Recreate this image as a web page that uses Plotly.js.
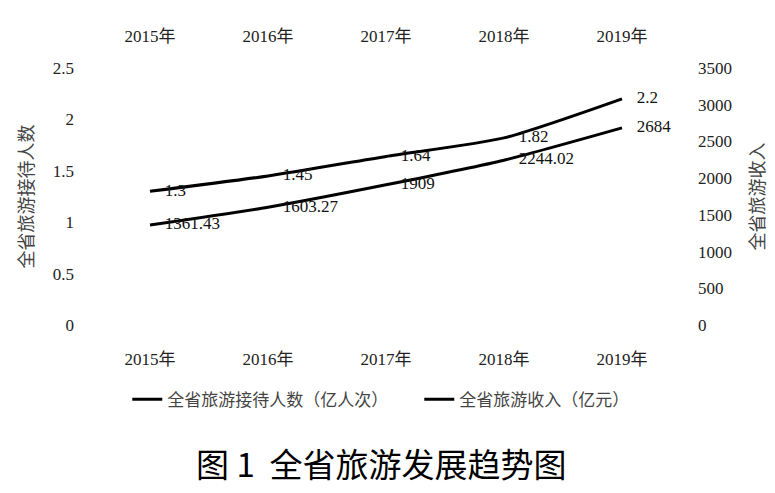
<!DOCTYPE html>
<html>
<head>
<meta charset="utf-8">
<script src="https://cdn.plot.ly/plotly-3.0.1.min.js"></script>
<style>html,body{margin:0;padding:0;background:#fff;}#chart{width:775px;height:493px;}</style>
</head>
<body>
<div id="chart"></div>
<script>
const years = ['2015年', '2016年', '2017年', '2018年', '2019年'];
const visitors = [1.3, 1.45, 1.64, 1.82, 2.2];          // 亿人次
const revenue = [1361.43, 1603.27, 1909, 2244.02, 2684]; // 亿元
const visitorLabels = ['1.3', '1.45', '1.64', '1.82', '2.2'];
const revenueLabels = ['1361.43', '1603.27', '1909', '2244.02', '2684'];
const seriesNames = ['全省旅游接待人数（亿人次）', '全省旅游收入（亿元）'];

const serif = 'Liberation Serif, "Noto Sans CJK SC", serif';
const cjk = '"Noto Sans CJK SC", sans-serif';

const traces = [
  {
    x: years, y: visitors, name: seriesNames[0], type: 'scatter', mode: 'lines+markers+text',
    text: visitorLabels, textposition: 'middle right',
    textfont: {family: serif, size: 17, color: '#111'},
    line: {color: '#000', width: 3, shape: 'spline', smoothing: 0.6},
    marker: {size: 22, color: 'rgba(0,0,0,0)'},
    xaxis: 'x', yaxis: 'y', hoverinfo: 'skip'
  },
  {
    x: years, y: revenue, name: seriesNames[1], type: 'scatter', mode: 'lines+markers+text',
    text: revenueLabels, textposition: 'middle right',
    textfont: {family: serif, size: 17, color: '#111'},
    line: {color: '#000', width: 3, shape: 'spline', smoothing: 0.6},
    marker: {size: 22, color: 'rgba(0,0,0,0)'},
    xaxis: 'x', yaxis: 'y2', hoverinfo: 'skip'
  },
  {
    x: years, y: visitors, type: 'scatter', mode: 'markers', showlegend: false,
    marker: {size: 1, color: 'rgba(0,0,0,0)'}, xaxis: 'x2', yaxis: 'y', hoverinfo: 'skip'
  }
];

const tickFont = {family: serif, size: 17, color: '#222'};

const layout = {
  width: 775, height: 493,
  paper_bgcolor: '#fff', plot_bgcolor: '#fff',
  margin: {l: 91, r: 94, t: 68, b: 168},
  showlegend: true,
  title: {
    text: '图 1  全省旅游发展趋势图',
    font: {family: cjk, size: 33, color: '#000'},
    x: 0.492, xanchor: 'center', y: 0.055, yanchor: 'middle'
  },
  xaxis: {
    type: 'category', categoryarray: years, range: [-0.5, 4.5],
    showgrid: false, zeroline: false, showline: false, ticks: '',
    tickfont: tickFont, ticklabelstandoff: 22
  },
  xaxis2: {
    type: 'category', categoryarray: years, range: [-0.5, 4.5],
    overlaying: 'x', side: 'top', anchor: 'y',
    showgrid: false, zeroline: false, showline: false, ticks: '',
    tickfont: tickFont, ticklabelstandoff: 22
  },
  yaxis: {
    range: [0, 2.5], dtick: 0.5, tick0: 0,
    showgrid: false, zeroline: false, showline: false, ticks: '',
    tickfont: tickFont, ticklabelstandoff: 16,
    title: {text: '全省旅游接待人数', font: {family: cjk, size: 18, color: '#444'}, standoff: 14}
  },
  yaxis2: {
    range: [0, 3500], dtick: 500, tick0: 0,
    overlaying: 'y', side: 'right',
    showgrid: false, zeroline: false, showline: false, ticks: '',
    tickfont: tickFont, ticklabelstandoff: 16,
    title: {text: '全省旅游收入', font: {family: cjk, size: 18, color: '#444'}, standoff: 20}
  },
  legend: {
    orientation: 'h', xref: 'container', yref: 'container',
    x: 0.541, xanchor: 'center', y: 0.189, yanchor: 'middle',
    font: {family: cjk, size: 17, color: '#444'},
    itemwidth: 30, tracegroupgap: 0,
    entrywidth: 247, entrywidthmode: 'pixels'
  }
};

Plotly.newPlot('chart', traces, layout, {displayModeBar: false, staticPlot: true});
</script>
</body>
</html>
